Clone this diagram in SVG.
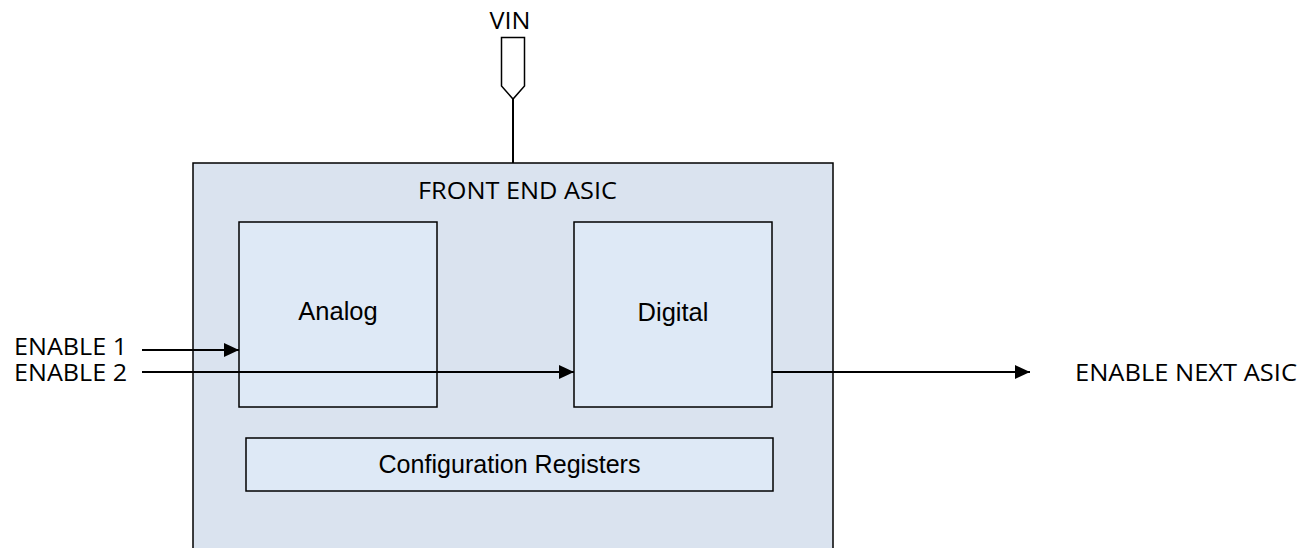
<svg xmlns="http://www.w3.org/2000/svg" width="1307" height="548" viewBox="0 0 1307 548">
<style>
.box{stroke:#000;stroke-width:1.5}
.outer{fill:#dae3ef}
.inner{fill:#dee9f6}
.lbl{font-family:"Open Sans","Liberation Sans",sans-serif;font-size:24px;fill:#000}
.blk{font-family:"Liberation Sans",Arial,sans-serif;font-size:25.5px;fill:#000}
.wire{stroke:#000;stroke-width:2;fill:none}
</style>
<defs>
<marker id="arr" markerUnits="userSpaceOnUse" markerWidth="16" markerHeight="14" refX="15" refY="7" orient="auto">
<path d="M0,0 L15,7 L0,14 Z" fill="#000"/>
</marker>
</defs>
<rect width="1307" height="548" fill="#fff"/>
<g id="vin">
<text class="lbl" x="510" y="29" text-anchor="middle" textLength="41" lengthAdjust="spacingAndGlyphs">VIN</text>
<polygon points="501.5,37.5 524.5,37.5 524.5,86 513,99 501.5,86" fill="#fff" stroke="#000" stroke-width="1.5"/>
</g>
<g id="asic">
<rect class="box outer" x="193" y="163" width="640" height="400"/>
<text class="lbl" x="517.5" y="199" text-anchor="middle" textLength="199" lengthAdjust="spacingAndGlyphs">FRONT END ASIC</text>
</g>
<g id="analog">
<rect class="box inner" x="239" y="222" width="198" height="185"/>
<text class="blk" x="338" y="320" text-anchor="middle">Analog</text>
</g>
<g id="digital">
<rect class="box inner" x="574" y="222" width="198" height="185"/>
<text class="blk" x="673" y="321" text-anchor="middle">Digital</text>
</g>
<g id="config">
<rect class="box inner" x="246" y="438" width="527" height="53"/>
<text class="blk" x="509.5" y="473" text-anchor="middle" textLength="262" lengthAdjust="spacingAndGlyphs">Configuration Registers</text>
</g>
<g id="labels">
<text class="lbl" x="14" y="355" textLength="113" lengthAdjust="spacingAndGlyphs">ENABLE 1</text>
<text class="lbl" x="14" y="381" textLength="113" lengthAdjust="spacingAndGlyphs">ENABLE 2</text>
<text class="lbl" x="1075" y="381" textLength="222" lengthAdjust="spacingAndGlyphs">ENABLE NEXT ASIC</text>
</g>
<g id="connectors">
<line class="wire" x1="513" y1="99" x2="513" y2="163"/>
<line class="wire" x1="142" y1="350" x2="239" y2="350" marker-end="url(#arr)"/>
<line class="wire" x1="142" y1="372" x2="574" y2="372" marker-end="url(#arr)"/>
<line class="wire" x1="772" y1="372" x2="1030" y2="372" marker-end="url(#arr)"/>
</g>
</svg>
